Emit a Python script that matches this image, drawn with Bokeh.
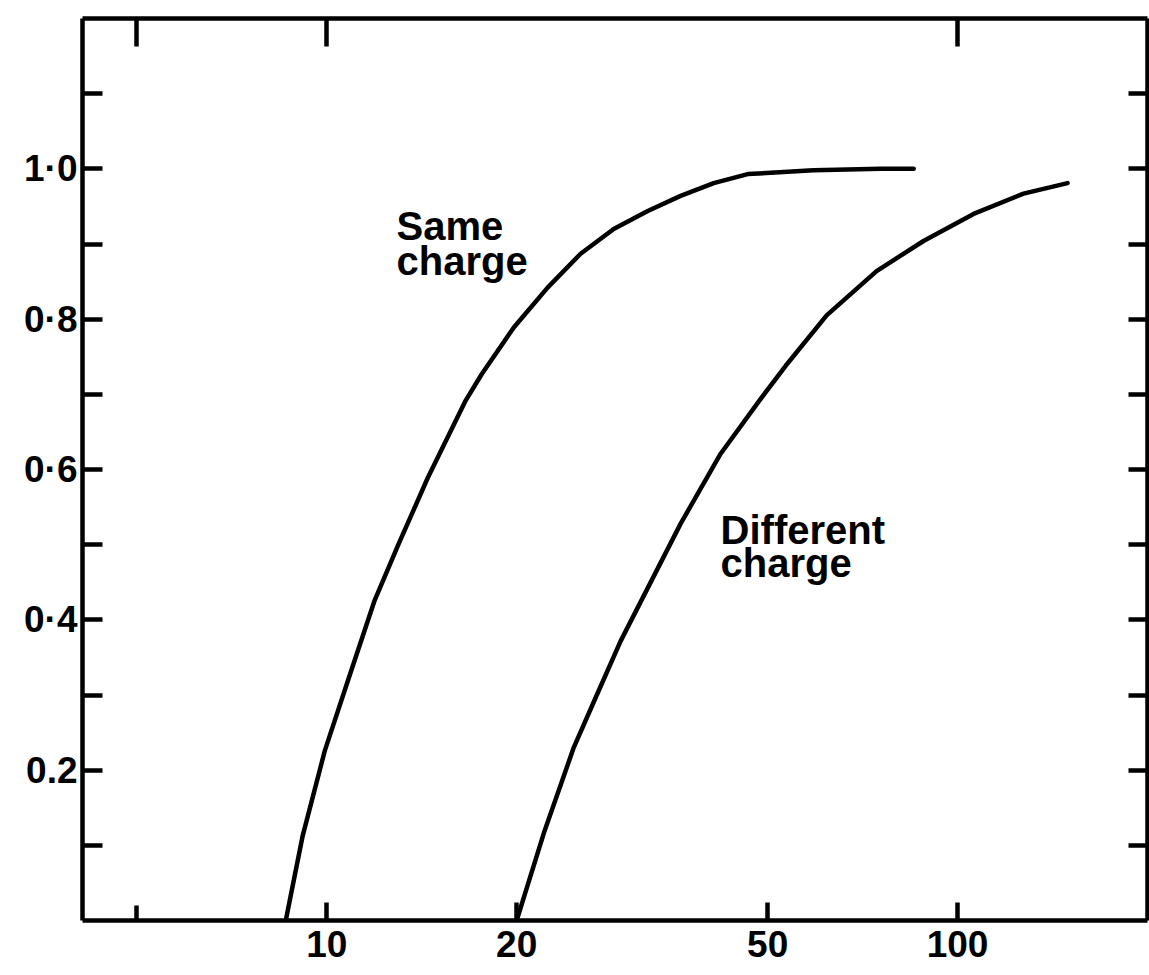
from bokeh.plotting import figure
from bokeh.models import Range1d, FixedTicker, LogAxis, LinearAxis
from bokeh.core.properties import value
from bokeh.embed import file_html
from bokeh.resources import INLINE

# ---- data ----
same_x = [8.61, 9.16, 9.93, 10.84, 11.91, 13.00, 14.46, 16.61, 17.61, 19.79, 22.39,
          25.26, 28.50, 32.27, 36.39, 41.06, 46.48, 59.1, 75.5, 85.2]
same_y = [0.0, 0.113, 0.226, 0.323, 0.426, 0.501, 0.589, 0.692, 0.727, 0.789, 0.842,
          0.887, 0.920, 0.944, 0.964, 0.981, 0.993, 0.998, 1.0, 1.0]
diff_x = [20.0, 22.08, 24.63, 26.70, 29.24, 36.39, 42.11, 48.73, 53.39, 62.0,
          74.4, 88.3, 106.0, 127.2, 149.4]
diff_y = [0.0, 0.116, 0.230, 0.297, 0.372, 0.528, 0.621, 0.694, 0.738, 0.805,
          0.864, 0.904, 0.940, 0.967, 0.981]

x_ticks_labeled = [10, 20, 50, 100]
x_ticks_plain = [5]
x_tick_labels = {10: "10", 20: "20", 50: "50", 100: "100"}
x_ticks_top = [5, 10, 100]
y_ticks_labeled = [0.2, 0.4, 0.6, 0.8, 1.0]
y_ticks_plain = [0.1, 0.3, 0.5, 0.7, 0.9, 1.1]
y_ticks_all = [0.1, 0.2, 0.3, 0.4, 0.5, 0.6, 0.7, 0.8, 0.9, 1.0, 1.1]
y_tick_labels = {0.2: "0.2", 0.4: "0·4", 0.6: "0·6", 0.8: "0·8", 1.0: "1·0"}

label_x = [12.9, 12.9, 42.1, 42.1]
label_y = [0.924, 0.878, 0.519, 0.476]
label_text = ["Same", "charge", "Different", "charge"]

FONT = "Liberation Sans"
LW = 4.5

p = figure(width=1149, height=974, x_axis_type="log",
           x_range=Range1d(4.1, 200), y_range=Range1d(0, 1.2),
           output_backend="svg", toolbar_location=None,
           min_border_left=82, min_border_right=2, min_border_top=18,
           min_border_bottom=54)
p.grid.visible = False
p.outline_line_color = None
p.background_fill_color = "white"
p.border_fill_color = "white"

# curves
p.line(same_x, same_y, line_width=LW, line_color="black", line_cap="round",
       line_join="round")
p.line(diff_x, diff_y, line_width=LW, line_color="black", line_cap="round",
       line_join="round")

# curve labels
p.text(x=label_x, y=label_y, text=label_text, text_font=value(FONT),
       text_font_style="bold", text_font_size="40px", text_color="black",
       text_align="left", text_baseline="alphabetic")


def style(ax, tick_in):
    ax.axis_line_width = LW
    ax.axis_line_color = "black"
    ax.major_tick_line_width = LW
    ax.major_tick_line_color = "black"
    ax.major_tick_in = tick_in
    ax.major_tick_out = 0
    ax.minor_tick_line_width = LW
    ax.minor_tick_line_color = "black"
    ax.minor_tick_in = tick_in
    ax.minor_tick_out = 0
    ax.major_label_text_font = FONT
    ax.major_label_text_font_style = "bold"
    ax.major_label_text_font_size = "37px"
    ax.major_label_text_color = "black"


# bottom axis
xb = p.xaxis[0]
xb.ticker = FixedTicker(ticks=x_ticks_labeled, minor_ticks=x_ticks_plain)
xb.major_label_overrides = x_tick_labels
style(xb, 18)
xb.minor_tick_in = 15
xb.major_label_standoff = 10

# left axis
yl = p.yaxis[0]
yl.ticker = FixedTicker(ticks=y_ticks_labeled, minor_ticks=y_ticks_plain)
yl.major_label_overrides = y_tick_labels
style(yl, 20)
yl.major_label_standoff = 5

# top axis (ticks only)
xt = LogAxis(ticker=FixedTicker(ticks=[], minor_ticks=x_ticks_top))
style(xt, 28)
p.add_layout(xt, "above")

# right axis (ticks only)
yr = LinearAxis(ticker=FixedTicker(ticks=[], minor_ticks=y_ticks_all))
style(yr, 19)
p.add_layout(yr, "right")

open("out.html", "w").write(file_html(p, INLINE))
